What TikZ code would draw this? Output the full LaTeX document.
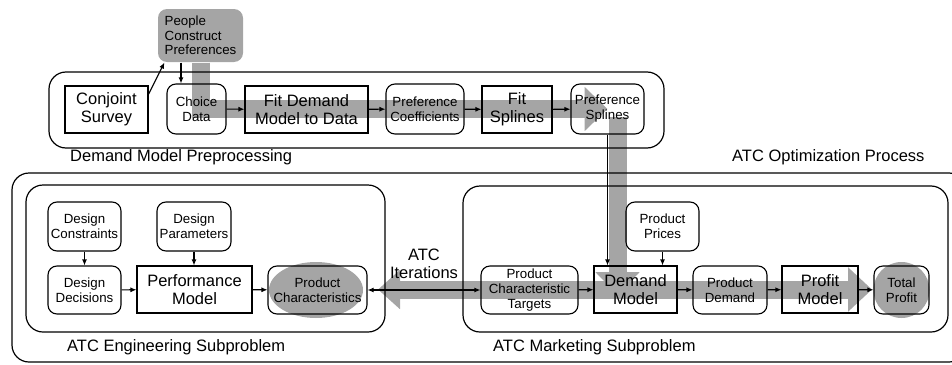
\documentclass[tikz,border=0pt]{standalone}
\usepackage{fontspec}
\setmainfont{Liberation Sans}
\usetikzlibrary{arrows.meta,backgrounds}
\definecolor{bandgray}{RGB}{165,165,165}

\begin{document}
\begin{tikzpicture}[
  font=\fontsize{16.5}{18}\selectfont,
  box/.style={draw, line width=1.1pt, minimum height=47pt, align=center, inner sep=1pt},
  rbox/.style={box, rounded corners=9pt, minimum height=49pt, font=\fontsize{13.3}{15}\selectfont},
  frame/.style={line width=1.2pt, rounded corners=17pt},
  arr/.style={-{Latex[length=6pt,width=5pt]}, line width=1.1pt},
  band/.style={line width=18pt, color=bandgray, line join=miter, -{Triangle[length=23pt,width=43pt]}},
  lbl/.style={anchor=west, inner sep=0pt}
]
\useasboundingbox (0pt,0pt) rectangle (952pt,-364pt);

% frames
\draw[frame] (49pt,-72pt) rectangle (664pt,-148pt);
\draw[frame] (12pt,-173pt) rectangle (966pt,-362pt);
\draw[frame] (26pt,-185pt) rectangle (385pt,-332pt);
\draw[frame] (463pt,-186pt) rectangle (948pt,-332pt);
\node[lbl] (lpre) at (70pt,-157pt) {Demand Model Preprocessing};
\node[lbl] (lopt) at (732pt,-157pt) {ATC Optimization Process};
\node[lbl] (leng) at (67pt,-347pt) {ATC Engineering Subproblem};
\node[lbl] (lmkt) at (493pt,-347pt) {ATC Marketing Subproblem};

% preprocessing row
\node[box, minimum width=83pt] (conjoint) at (106.5pt,-109.5pt) {Conjoint\\Survey};
\node[rbox, draw=none, fill=bandgray, align=left, minimum width=85pt, minimum height=53pt, font=\fontsize{13.3}{14.5}\selectfont] (people) at (200.5pt,-35.5pt) {People\\Construct\\Preferences};
\node[rbox, minimum width=59pt, minimum height=50pt] (choice) at (196.5pt,-109pt) {Choice\\Data};
\node[box, minimum width=123pt] (fitdemand) at (306.5pt,-109.5pt) {Fit Demand\\Model to Data};
\node[rbox, minimum width=78pt, minimum height=50pt] (prefcoef) at (425pt,-109pt) {Preference\\Coefficients};
\node[box, minimum width=70pt] (fitsplines) at (517pt,-109.5pt) {Fit\\Splines};
\node[rbox, minimum width=73pt, minimum height=50pt] (prefsplines) at (607.5pt,-109pt) {Preference\\Splines};

% engineering subproblem
\node[rbox, minimum width=73pt] (constraints) at (84.5pt,-226.5pt) {Design\\Constraints};
\node[rbox, minimum width=74pt] (parameters) at (194pt,-226.5pt) {Design\\Parameters};
\node[rbox, minimum width=73pt, minimum height=48pt] (decisions) at (84.5pt,-290pt) {Design\\Decisions};
\node[box, minimum width=115pt] (performance) at (194.5pt,-289.5pt) {Performance\\Model};
\node[rbox, minimum width=99pt, minimum height=48pt] (prodchar) at (317.5pt,-290pt) {Product\\Characteristics};

\node[align=center] (iter) at (424pt,-264pt) {ATC\\Iterations};

% marketing subproblem
\node[rbox, minimum width=97pt, minimum height=48pt] (targets) at (529.5pt,-290pt) {Product\\Characteristic\\Targets};
\node[rbox, minimum width=73pt] (prices) at (662.5pt,-226.5pt) {Product\\Prices};
\node[box, minimum width=83pt] (demand) at (635.5pt,-289.5pt) {Demand\\Model};
\node[rbox, minimum width=74pt, minimum height=48pt] (proddemand) at (730pt,-290pt) {Product\\Demand};
\node[box, minimum width=76pt] (profit) at (820pt,-289.5pt) {Profit\\Model};
\node[rbox, minimum width=55pt, minimum height=48pt] (totalprofit) at (901.5pt,-290pt) {Total\\Profit};

% grey flow underneath
\coordinate (splinesdrop) at (617.5pt,-117pt);
\coordinate (demandtip) at (617.5pt,-295pt);
\coordinate (chartip) at (378pt,-289.5pt);
\coordinate (profittip) at (872pt,-289.5pt);
\begin{scope}[on background layer]
  \fill[bandgray] ([xshift=-1.5pt]prodchar.center) ellipse (47pt and 28pt);
  \fill[bandgray] (totalprofit.center) circle (28pt);
  \draw[band] (people.south) |- (prefsplines.center);
  \draw[band] (splinesdrop) -- (demandtip);
  \draw[band, {Triangle[length=22pt,width=38pt]}-{Triangle[length=24pt,width=43pt]}] (chartip) -- (profittip);
\end{scope}

% arrows
\coordinate (choicein) at ([xshift=-15.5pt]choice.north);
\draw[arr] (conjoint.20) -- ([xshift=7pt]people.south west);
\draw[arr] (people.south -| choicein) -- (choicein);
\draw[arr] (choice) -- (fitdemand);
\draw[arr] (fitdemand) -- (prefcoef);
\draw[arr] (prefcoef) -- (fitsplines);
\draw[arr] (fitsplines) -- (prefsplines);
\draw[arr] (prefsplines.south) -- (prefsplines.south |- demand.north);

\draw[arr] (constraints) -- (decisions);
\draw[arr] (parameters) -- (parameters |- performance.north);
\draw[arr] (decisions) -- (performance);
\draw[arr] (performance) -- (prodchar);
\draw[arr, {Latex[length=6pt,width=5pt]}-{Latex[length=6pt,width=5pt]}] (prodchar) -- (targets);

\draw[arr] (targets) -- (demand);
\draw[arr] (prices) -- (prices |- demand.north);
\draw[arr] (demand) -- (proddemand);
\draw[arr] (proddemand) -- (profit);
\draw[arr] (profit) -- (totalprofit);
\end{tikzpicture}
\end{document}
